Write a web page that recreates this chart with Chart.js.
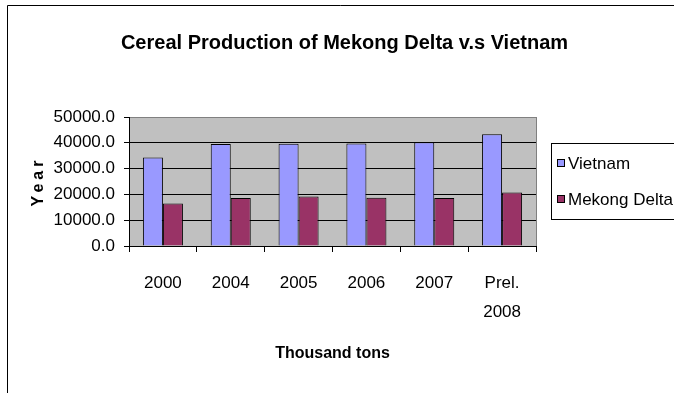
<!DOCTYPE html>
<html>
<head>
<meta charset="utf-8">
<title>Cereal Production</title>
<script src="https://cdn.jsdelivr.net/npm/chart.js@4/dist/chart.umd.min.js"></script>
<style>
  html, body { margin: 0; padding: 0; background: #fff; }
  #wrap { width: 674px; height: 393px; position: relative; }
</style>
</head>
<body>
<div id="wrap"><canvas id="chart" width="674" height="393"></canvas></div>
<script>
// data (thousand tons)
const categories = ['2000', '2004', '2005', '2006', '2007', ['Prel.', '2008']];
const vietnam = [34300, 39500, 39600, 39700, 40200, 43300];
const mekongDelta = [16500, 18600, 19200, 18700, 18600, 20700];
const yTicks = [0, 10000, 20000, 30000, 40000, 50000];

const FONT = "'Liberation Sans', Arial, sans-serif";

// grey plot background + frame around the chart
const plotBox = {
    id: 'plotBox',
    beforeDraw(chart) {
        const { ctx, chartArea: a } = chart;
        ctx.save();
        ctx.fillStyle = '#c0c0c0';
        ctx.fillRect(a.left, a.top, a.right - a.left, a.bottom - a.top);
        ctx.strokeStyle = '#808080';
        ctx.lineWidth = 1;
        ctx.strokeRect(a.left + 0.5, a.top + 0.5, a.right - a.left, a.bottom - a.top);
        ctx.restore();
    },
    afterDraw(chart) {
        const ctx = chart.ctx;
        ctx.save();
        ctx.strokeStyle = '#000';
        ctx.lineWidth = 1;
        ctx.beginPath();
        ctx.moveTo(7.5, 393);
        ctx.lineTo(7.5, 5.5);
        ctx.lineTo(674, 5.5);
        ctx.stroke();
        ctx.restore();
    }
};

// boxed legend on the right
const boxLegend = {
    id: 'boxLegend',
    afterDraw(chart) {
        const ctx = chart.ctx;
        ctx.save();
        ctx.strokeStyle = '#000';
        ctx.lineWidth = 1;
        ctx.strokeRect(551.5, 143.5, 140, 76);
        ctx.font = '17px ' + FONT;
        ctx.textBaseline = 'middle';
        chart.data.datasets.forEach((ds, i) => {
            const y = 163 + i * 36;
            ctx.fillStyle = ds.backgroundColor;
            ctx.fillRect(557, y - 4, 8, 8);
            ctx.strokeRect(557.5, y - 3.5, 7, 7);
            ctx.fillStyle = '#000';
            ctx.fillText(ds.label, 568, y + 1);
        });
        ctx.restore();
    }
};

new Chart(document.getElementById('chart'), {
    type: 'bar',
    data: {
        labels: categories,
        datasets: [
            {
                label: 'Vietnam',
                data: vietnam,
                backgroundColor: '#9999ff',
                borderColor: '#000',
                borderWidth: 1
            },
            {
                label: 'Mekong Delta',
                data: mekongDelta,
                backgroundColor: '#993366',
                borderColor: '#000',
                borderWidth: 1
            }
        ]
    },
    options: {
        responsive: false,
        animation: false,
        events: [],
        layout: { padding: { left: 15, right: 0, top: 0, bottom: 0 } },
        datasets: {
            bar: { categoryPercentage: 0.59, barPercentage: 1 }
        },
        plugins: {
            legend: { display: false },
            tooltip: { enabled: false },
            title: {
                display: true,
                text: 'Cereal Production of Mekong Delta v.s Vietnam',
                color: '#000',
                font: { family: FONT, size: 20, weight: 'bold', lineHeight: 1.2 },
                padding: { top: 31, bottom: 62 }
            }
        },
        scales: {
            x: {
                grid: {
                    offset: true,
                    drawOnChartArea: false,
                    drawTicks: true,
                    tickLength: 6,
                    color: '#000',
                    tickColor: '#000'
                },
                border: { color: '#000', width: 1 },
                ticks: {
                    color: '#000',
                    font: { family: FONT, size: 17, lineHeight: 1.7 },
                    padding: 17,
                    maxRotation: 0,
                    autoSkip: false
                },
                title: {
                    display: true,
                    text: 'Thousand tons',
                    color: '#000',
                    font: { family: FONT, size: 16, weight: 'bold', lineHeight: 1.2 },
                    padding: { top: 0, bottom: 30 }
                },
                afterFit(scale) { scale.height = 147; }
            },
            y: {
                min: 0,
                max: 50000,
                afterBuildTicks(scale) {
                    scale.ticks = yTicks.map(v => ({ value: v }));
                },
                grid: {
                    color: ctx => (ctx.tick && ctx.tick.value === 50000 ? '#808080' : '#000'),
                    tickColor: '#000',
                    tickLength: 5,
                    drawTicks: true
                },
                border: { color: '#000', width: 1 },
                ticks: {
                    color: '#000',
                    font: { family: FONT, size: 17 },
                    padding: 9,
                    callback: v => Number(v).toFixed(1)
                },
                title: {
                    display: true,
                    text: 'Year',
                    color: '#000',
                    font: { family: FONT, size: 16, weight: 'bold', lineHeight: 1.2 },
                    padding: { top: 14, bottom: 0 }
                },
                afterFit(scale) {
                    scale.width = 114;
                    // spaced-out lettering for the axis title
                    if (!scale._spaced) {
                        const draw = scale.drawTitle;
                        scale.drawTitle = function () {
                            this.ctx.save();
                            this.ctx.letterSpacing = '4px';
                            draw.apply(this, arguments);
                            this.ctx.restore();
                        };
                        scale._spaced = true;
                    }
                }
            },
            // empty axis that reserves room for the legend box
            legendSpace: {
                type: 'linear',
                position: 'right',
                display: true,
                grid: { display: false, drawTicks: false },
                border: { display: false },
                ticks: { display: false },
                afterFit(scale) { scale.width = 138; }
            }
        }
    },
    plugins: [plotBox, boxLegend]
});
</script>
</body>
</html>
